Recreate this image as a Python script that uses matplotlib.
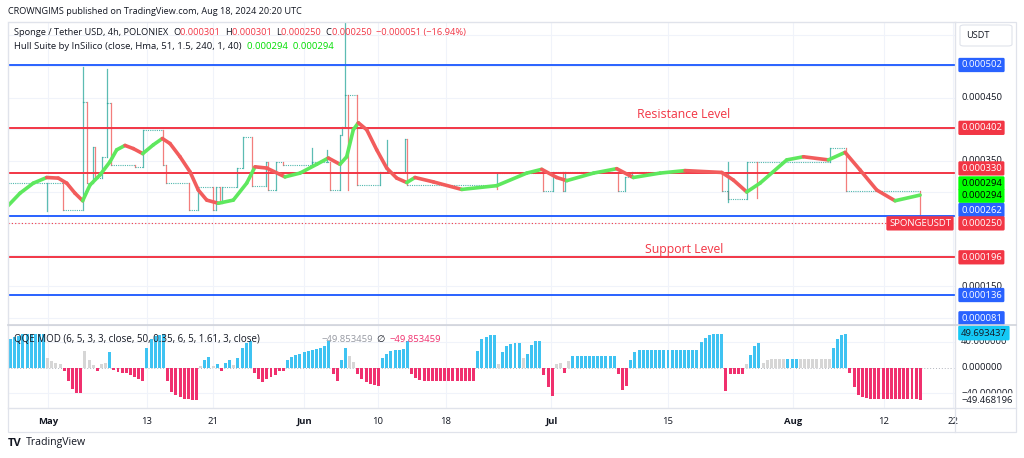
import numpy as np
import matplotlib.pyplot as plt
from matplotlib.collections import LineCollection
from matplotlib.lines import Line2D
from matplotlib.patches import FancyBboxPatch, Rectangle
from matplotlib.offsetbox import TextArea, HPacker, VPacker, AnchoredOffsetbox

plt.rcParams['font.family'] = ['Open Sans', 'DejaVu Sans']

# prices are in 1e-6 USDT, x is days since May 1 (TradingView bar scale)
tick_pos = [0, 11.97, 19.98, 30.99, 39.9, 48.1, 60.9, 75.0, 90.1, 101.1, 109.5]
tick_lbl = ["May", "13", "21", "Jun", "10", "18", "Jul", "15", "Aug", "12", "22"]

# step-like price path: day of change, level after change
step_day = [-4.80, 1.85, 4.27, 4.72, 5.44, 5.72, 6.53, 7.21, 7.65, 10.56, 11.49, 13.91, 14.27,
            17.12, 18.21, 20.02, 20.35, 20.83, 21.04, 22.93, 23.65, 24.74, 26.36, 26.60, 27.61,
            28.49, 31.92, 34.14, 35.34, 35.55, 35.95, 37.36, 40.18, 43.20, 43.41, 54.29, 59.93,
            61.14, 62.27, 62.55, 69.00, 69.81, 70.62, 81.50, 82.30, 84.52, 94.59, 96.53, 105.48]
step_val = [315, 271, 443, 315, 372, 322, 356, 441, 343, 340, 398, 343, 315,
            272, 308, 272, 308, 282, 308, 338, 388, 310, 348, 303, 348,
            343, 348, 303, 391, 403, 454, 311, 332, 384, 311, 330, 301.5,
            332, 301.5, 332, 301, 324, 331, 301, 289, 347, 369.5, 301.5, 250]

wick_day = [-0.08, 4.27, 7.21, 31.92, 33.74, 35.95, 36.35, 40.99, 54.29, 82.30, 85.80]
wick_lo = [269, 443, 441, 343, 348, 454, 303, 332, 304, 284, 290]
wick_hi = [315, 499, 496, 370, 367, 580, 454, 383, 311, 348, 347]
wick_bull = [1, 1, 1, 1, 1, 1, 0, 1, 0, 1, 0]

# Hull Suite line
hull_day = [-4.80, -3.35, -1.74, -0.12, 1.28, 2.30, 3.30, 4.23, 5.11, 6.32, 7.53, 8.34, 9.35,
            10.35, 11.49, 12.77, 13.86, 14.79, 16.00, 17.21, 18.21, 19.23, 20.63, 22.44, 24.06,
            25.07, 26.48, 28.69, 30.51, 32.53, 33.93, 35.34, 36.15, 36.95, 37.56, 38.57, 39.78,
            40.99, 42.20, 43.41, 44.41, 46.63, 50.06, 54.29, 57.92, 59.73, 61.55, 62.76, 66.00,
            68.80, 70.81, 74.04, 77.06, 81.50, 82.90, 84.52, 86.13, 89.36, 91.37, 94.39, 96.41,
            98.22, 100.24, 102.45, 105.48]
hull_val = [278, 298, 314, 323, 322, 314, 298, 286, 311, 327, 348, 367, 374,
            369, 361, 375, 385, 377, 356, 332, 303, 287, 282, 287, 314,
            340, 338, 324, 330, 344, 354, 344, 356, 399, 410, 399, 367,
            338, 322, 315, 323, 316, 304, 310, 330, 336, 323, 318, 330,
            337, 323, 330, 334, 331, 319, 300, 314, 351, 356, 351, 363,
            335, 303, 286, 295]

level_val = [502, 402, 330, 262, 196, 136]
level_col = ['#2962ff', '#f23645', '#f23645', '#2962ff', '#f23645', '#2962ff']
last_price = 250

# QQE MOD histogram, one value per 12h from day -4.5
qqe_val = [45, 48, 50, 52, 52, 52, 52, 52, 52, 15, 11, 8, 6, -5, -20, -33, -39, -40, 26, 12,
           4, -5, 6, 8, 25, -4, -6, -8, -9, -11, -14, -17, -20, 30, 45, 49, 51, 52, -20, -38,
           -43, -46, -48, -49, -50, -51, 3, 12, 17, 2, 6, -5, 8, 12, 4, 15, 30, 38, 41, -8,
           -18, -23, -17, -15, -12, -5, -5, 12, 16, 20, 22, 24, 26, 27, 29, 31, 33, 41, -10, -21,
           12, 30, 18, 9, -10, -18, -22, -25, -27, -28, 15, 22, 26, 27, 28, 29, 41, -10, -16, -19,
           -20, -20, -20, -20, -20, -20, -20, -20, -20, -20, -20, -20, -20, 26, 44, 48, 51, 51, 5, 25,
           34, 37, 38, 38, 15, 22, 35, 41, 41, -12, -30, -44, 5, 8, -8, 10, 18, 18, 18, 18,
           18, 18, 18, 18, 18, 18, 18, -10, -35, -28, 12, 25, 28, 28, 28, 28, 28, 28, 28, 28,
           28, 28, 28, 28, 28, 28, 28, 40, 46, 51, 52, 52, 52, -36, -10, -10, -10, -10, 5, 20,
           33, 38, 8, 12, 13, 13, 13, 13, 13, 13, 13, 13, 13, 13, 13, 13, 13, 13, 13, 30,
           45, 51, 52, -8, -30, -42, -46, -47, -48, -48, -48, -48, -48, -48, -48, -48, -48, -48, -48, -48,
           -51]
qqe_kind = ("bbbbbbbbbggggpppppggg" "pggbppppppppbbbbbpppppppp" "gbbgbpbbgbbbbpppppp" "ppbbbbbbbbbbbpp"
            "bbggppppppbbbbbbbppp" "ppppppppppppp" "bbbbbgbbbbbgbbbbppp" "ggpg" "bbbbbbbbbbb" "ppp"
            "bbbbbbbbbbbbbbbbbbbbbbb" "ppppp" "gbbb" "gggggg" "bbb" "gggggggg" "bbbb" "pppppppppppppppppp")
qqe_day = np.arange(len(qqe_val)) * 0.5 - 4.5

W, H = 1024, 458
fig = plt.figure(figsize=(W / 100, H / 100), dpi=100)


def fx(px):
    return px / W


def fy(py):
    return 1 - py / H


ax = fig.add_axes([fx(8), fy(325), fx(955) - fx(8), fy(22) - fy(325)])
axq = fig.add_axes([fx(8), fy(407.5), fx(955) - fx(8), fy(325) - fy(407.5)])

dark = '#131722'
red = '#f23645'
teal = '#26a69a'
grid = '#f0f3fa'

for a in (ax, axq):
    a.set_xlim(-4.8, 109.7)
    a.set_xticks(tick_pos)
    a.grid(True, color=grid, lw=0.8)
    a.set_axisbelow(True)
    a.tick_params(length=0)
    for s in a.spines.values():
        s.set_color('#e0e3eb')
        s.set_linewidth(0.8)
    a.set_yticklabels([])

ax.set_ylim(88.3, 570.4)
ax.set_yticks(np.arange(100, 600, 50))
ax.set_xticklabels([])

# price: horizontal dotted runs and vertical moves
for i in range(len(step_day) - 1):
    ax.plot([step_day[i], step_day[i + 1]], [step_val[i], step_val[i]], color=teal, lw=0.8,
            ls=(0, (1, 1)), alpha=0.8)
    ax.plot([step_day[i + 1], step_day[i + 1]], [step_val[i], step_val[i + 1]],
            color=teal if step_val[i + 1] > step_val[i] else '#ef5350', lw=0.9, alpha=0.75)
for d, lo, hi, b in zip(wick_day, wick_lo, wick_hi, wick_bull):
    ax.plot([d, d], [lo, hi], color=teal if b else '#ef5350', lw=0.9, alpha=0.75)

for v, c in zip(level_val, level_col):
    ax.axhline(v, color=c, lw=1.4)
ax.axhline(last_price, color=red, lw=0.8, ls=(0, (1, 2)))

# hull line colored by slope
pts = np.column_stack([hull_day, hull_val])
segs = np.stack([pts[:-1], pts[1:]], axis=1)
cols = ['#5ee85e' if hull_val[i + 1] >= hull_val[i] else '#f25c5c' for i in range(len(hull_val) - 1)]
ax.add_collection(LineCollection(segs, colors=cols, linewidths=2.6, capstyle='round'))

ax.text(76.9, 424, "Resistance Level", color=red, fontsize=8.8, ha='center', va='center')
ax.text(76.9, 209, "Support Level", color=red, fontsize=8.8, ha='center', va='center')


# legend rows
def row(parts, size=6.7):
    return HPacker(children=[TextArea(t, textprops=dict(color=c, fontsize=size)) for t, c in parts],
                   align='baseline', pad=0, sep=0)


r1 = row([("Sponge / Tether USD, 4h, POLONIEX  ", dark), ("O", dark), ("0.000301  ", red),
          ("H", dark), ("0.000301  ", red), ("L", dark), ("0.000250  ", red), ("C", dark),
          ("0.000250  ", red), ("\u22120.000051 (\u221216.94%)", red)])
r2 = row([("Hull Suite by InSilico (close, Hma, 51, 1.5, 240, 1, 40)  ", dark),
          ("0.000294  0.000294", '#00dd00')], size=6.8)
leg = AnchoredOffsetbox(loc='upper left', child=VPacker(children=[r1, r2], align='left', pad=0, sep=3.5),
                        pad=0, borderpad=0.45, frameon=False)
ax.add_artist(leg)

# right price labels: value, text, background, text colour, shift in px
blue = '#2962ff'
labels = [(450, '0.000450', None, dark, 0), (350, '0.000350', None, dark, 0),
          (150, '0.000150', None, dark, 0),
          (502, '0.000502', blue, 'white', 0), (402, '0.000402', red, 'white', 0),
          (330, '0.000330', red, 'white', 4.7), (294, '0.000294', '#00ff00', 'black', 12.3),
          (294, '0.000294', '#00ff00', 'black', 0), (262, '0.000262', blue, 'white', 5.8),
          (250, '0.000250', red, 'white', 0), (196, '0.000196', red, 'white', 0),
          (136, '0.000136', blue, 'white', 0), (81, '0.000081', blue, 'white', 11.3)]
for v, t, bg, fg, dy in labels:
    bb = dict(boxstyle='round,pad=0.28,rounding_size=0.15', fc=bg, ec='none') if bg else None
    ax.annotate(t, xy=(1, v), xycoords=('axes fraction', 'data'), xytext=(6, dy),
                textcoords='offset pixels', ha='left', va='center', fontsize=6.8, color=fg,
                bbox=bb, annotation_clip=False)
ax.annotate("SPONGEUSDT", xy=(1, last_price), xycoords=('axes fraction', 'data'), xytext=(-4, 0),
            textcoords='offset pixels', ha='right', va='center', fontsize=6.8, color='white',
            bbox=dict(boxstyle='round,pad=0.28,rounding_size=0.15', fc=red, ec='none'),
            annotation_clip=False)

# QQE pane
axq.set_ylim(-61.9, 66.4)
axq.set_yticks([-40, 40])
qcol = {'b': '#3fc3f2', 'p': '#f0306e', 'g': '#d6d6d6'}
axq.bar(qqe_day, qqe_val, width=0.36, color=[qcol[k] for k in qqe_kind], linewidth=0)
axq.axhline(0, color='#b2b5be', lw=0.7, ls=(0, (1, 2)), zorder=0)
axq.set_xticklabels(tick_lbl, fontsize=6.8, color=dark)
for lab in axq.get_xticklabels():
    if lab.get_text() in ("May", "Jun", "Jul", "Aug"):
        lab.set_fontweight('bold')
axq.tick_params(axis='x', pad=7)

qlabels = [(40, '40.000000', None, dark, 0), (0, '0.000000', None, dark, 0),
           (-40, '\u221240.000000', None, dark, 0),
           (49.69, '49.693437', '#14c8f5', dark, 2.7), (-49.47, '\u221249.468196', 'white', dark, -1)]
for v, t, bg, fg, dy in qlabels:
    bb = dict(boxstyle='round,pad=0.3,rounding_size=0.15', fc=bg, ec='none') if bg else None
    axq.annotate(t, xy=(1, v), xycoords=('axes fraction', 'data'), xytext=(6, dy),
                 textcoords='offset pixels', ha='left', va='center', fontsize=6.8, color=fg,
                 bbox=bb, annotation_clip=False)

fig.text(fx(14), fy(339), "QQE MOD (6, 5, 3, 3, close, 50, 0.35, 6, 5, 1.61, 3, close)",
         fontsize=7.0, color=dark, va='center')
fig.text(fx(322), fy(339), "\u221249.853459", fontsize=6.8, color='#9598a1', va='center')
fig.text(fx(376), fy(339), "\u2205", fontsize=6.8, color=dark, va='center')
fig.text(fx(390), fy(339), "\u221249.853459", fontsize=6.8, color='#f0306e', va='center')

# frame, price scale and time axis separators
fig.add_artist(Rectangle((fx(8), fy(432)), fx(1016) - fx(8), fy(22) - fy(432), transform=fig.transFigure,
                         fill=False, ec='#e0e3eb', lw=0.9))
fig.add_artist(Line2D([fx(955), fx(955)], [fy(22), fy(432)], color='#e0e3eb', lw=0.9))
fig.add_artist(Line2D([fx(8), fx(1016)], [fy(407.5), fy(407.5)], color='#e0e3eb', lw=0.9))
fig.add_artist(Line2D([fx(8), fx(1016)], [fy(325), fy(325)], color='#d1d4dc', lw=1.2))
fig.add_artist(FancyBboxPatch((fx(960), fy(46)), fx(1012) - fx(960), fy(25) - fy(46),
                              boxstyle='round,pad=0,rounding_size=0.004', transform=fig.transFigure,
                              fc='white', ec='#e0e3eb', lw=0.8))
fig.text(fx(966), fy(35.5), "USDT", fontsize=6.6, color=dark, va='center')

fig.text(fx(8), fy(11), "CROWNGIMS published on TradingView.com, Aug 18, 2024 20:20 UTC",
         fontsize=6.6, color=dark, va='center')
fig.text(fx(8), fy(443), "TV", fontsize=8, color=dark, va='center', fontweight='bold')
fig.text(fx(26), fy(443), "TradingView", fontsize=7.6, color=dark, va='center')

fig.savefig("out.png", dpi=100)
